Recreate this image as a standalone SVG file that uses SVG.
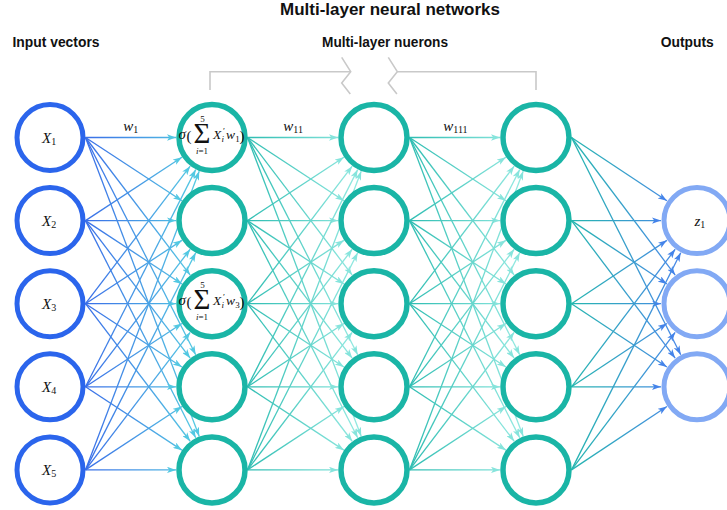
<svg xmlns="http://www.w3.org/2000/svg" width="727" height="510" viewBox="0 0 727 510">
<style>
.in circle{fill:#fff;stroke:#2b65ec;stroke-width:5}
.hid circle{fill:#fff;stroke:#1ab5a6;stroke-width:5.5}
.out circle{fill:#fff;stroke:#82a9f4;stroke-width:5}
.hdr{font-family:"Liberation Sans",Arial,sans-serif;font-weight:bold;font-size:13.8px;fill:#111}
.ttl{font-family:"Liberation Sans",Arial,sans-serif;font-weight:bold;font-size:16.5px;fill:#111}
.m{font-family:"Liberation Serif","Times New Roman",serif;fill:#111}
.it{font-style:italic}
.c line{stroke-width:1.3;fill:none}
.c1 line{stroke:url(#g1);marker-end:url(#a1)}
.c2 line{stroke:url(#g2);marker-end:url(#a2)}
.c3 line{stroke:url(#g3);marker-end:url(#a2)}
.c4 line{stroke:url(#g4);marker-end:url(#a4)}
.br{fill:none;stroke:#c9c9c9;stroke-width:1.6}
</style>
<defs>
<linearGradient id="g1" gradientUnits="userSpaceOnUse" x1="85.5" y1="0" x2="200" y2="0"><stop offset="0" stop-color="#3a6ee8"/><stop offset="1" stop-color="#56cde2"/></linearGradient>
<linearGradient id="g2" gradientUnits="userSpaceOnUse" x1="247.5" y1="0" x2="362" y2="0"><stop offset="0" stop-color="#2ebdb2"/><stop offset="1" stop-color="#97ebe3"/></linearGradient>
<linearGradient id="g3" gradientUnits="userSpaceOnUse" x1="409.5" y1="0" x2="524" y2="0"><stop offset="0" stop-color="#2ebdb2"/><stop offset="1" stop-color="#97ebe3"/></linearGradient>
<linearGradient id="g4" gradientUnits="userSpaceOnUse" x1="571.5" y1="0" x2="685" y2="0"><stop offset="0" stop-color="#26b6b0"/><stop offset="1" stop-color="#4a85ea"/></linearGradient>
<marker id="a1" viewBox="0 0 10 7" refX="10" refY="3.5" markerWidth="9" markerHeight="6.3" markerUnits="userSpaceOnUse" orient="auto"><path d="M0,0 L10,3.5 L0,7 L2.5,3.5 z" fill="#52c8e2"/></marker>
<marker id="a2" viewBox="0 0 10 7" refX="10" refY="3.5" markerWidth="9" markerHeight="6.3" markerUnits="userSpaceOnUse" orient="auto"><path d="M0,0 L10,3.5 L0,7 L2.5,3.5 z" fill="#86e4dc"/></marker>
<marker id="a4" viewBox="0 0 10 7" refX="10" refY="3.5" markerWidth="9" markerHeight="6.3" markerUnits="userSpaceOnUse" orient="auto"><path d="M0,0 L10,3.5 L0,7 L2.5,3.5 z" fill="#4483ea"/></marker>
</defs>

<g id="labels">
<text class="ttl" x="280" y="15.3" textLength="220" lengthAdjust="spacingAndGlyphs">Multi-layer neural networks</text>
<text class="hdr" x="12.5" y="47" textLength="87" lengthAdjust="spacingAndGlyphs">Input vectors</text>
<text class="hdr" x="322" y="47" textLength="126" lengthAdjust="spacingAndGlyphs">Multi-layer nuerons</text>
<text class="hdr" x="660.7" y="46.7" textLength="53" lengthAdjust="spacingAndGlyphs">Outputs</text>
</g>

<g id="bracket">
<path class="br" d="M210,90 V71.7 H350.7 M397.3,71.7 H536 V90"/>
<polyline class="br" points="341.7,57.3 350.7,71.7 341.7,83 350.3,94"/>
<polyline class="br" points="388.3,57.3 397.3,71.7 388.3,83 396.9,94"/>
</g>

<g id="connectors" class="c">
<g class="c1">
<line x1="85.5" y1="137.5" x2="176" y2="137.5"/>
<line x1="85.5" y1="137.5" x2="181.91" y2="200.83"/>
<line x1="85.5" y1="137.5" x2="190.2" y2="275.05"/>
<line x1="85.5" y1="137.5" x2="195.71" y2="354.7"/>
<line x1="85.5" y1="137.5" x2="199.2" y2="436.25"/>
<line x1="85.5" y1="220.6" x2="181.91" y2="157.27"/>
<line x1="85.5" y1="220.6" x2="176" y2="220.6"/>
<line x1="85.5" y1="220.6" x2="181.91" y2="283.93"/>
<line x1="85.5" y1="220.6" x2="190.2" y2="358.15"/>
<line x1="85.5" y1="220.6" x2="195.71" y2="437.8"/>
<line x1="85.5" y1="303.7" x2="190.2" y2="166.15"/>
<line x1="85.5" y1="303.7" x2="181.91" y2="240.37"/>
<line x1="85.5" y1="303.7" x2="176" y2="303.7"/>
<line x1="85.5" y1="303.7" x2="181.91" y2="367.03"/>
<line x1="85.5" y1="303.7" x2="190.2" y2="441.25"/>
<line x1="85.5" y1="386.8" x2="195.71" y2="169.6"/>
<line x1="85.5" y1="386.8" x2="190.2" y2="249.25"/>
<line x1="85.5" y1="386.8" x2="181.91" y2="323.47"/>
<line x1="85.5" y1="386.8" x2="176" y2="386.8"/>
<line x1="85.5" y1="386.8" x2="181.91" y2="450.13"/>
<line x1="85.5" y1="469.9" x2="199.2" y2="171.15"/>
<line x1="85.5" y1="469.9" x2="195.71" y2="252.7"/>
<line x1="85.5" y1="469.9" x2="190.2" y2="332.35"/>
<line x1="85.5" y1="469.9" x2="181.91" y2="406.57"/>
<line x1="85.5" y1="469.9" x2="176" y2="469.9"/>
</g>
<g class="c2">
<line x1="247.5" y1="137.5" x2="338" y2="137.5"/>
<line x1="247.5" y1="137.5" x2="343.91" y2="200.83"/>
<line x1="247.5" y1="137.5" x2="352.2" y2="275.05"/>
<line x1="247.5" y1="137.5" x2="357.71" y2="354.7"/>
<line x1="247.5" y1="137.5" x2="361.2" y2="436.25"/>
<line x1="247.5" y1="220.6" x2="343.91" y2="157.27"/>
<line x1="247.5" y1="220.6" x2="338" y2="220.6"/>
<line x1="247.5" y1="220.6" x2="343.91" y2="283.93"/>
<line x1="247.5" y1="220.6" x2="352.2" y2="358.15"/>
<line x1="247.5" y1="220.6" x2="357.71" y2="437.8"/>
<line x1="247.5" y1="303.7" x2="352.2" y2="166.15"/>
<line x1="247.5" y1="303.7" x2="343.91" y2="240.37"/>
<line x1="247.5" y1="303.7" x2="338" y2="303.7"/>
<line x1="247.5" y1="303.7" x2="343.91" y2="367.03"/>
<line x1="247.5" y1="303.7" x2="352.2" y2="441.25"/>
<line x1="247.5" y1="386.8" x2="357.71" y2="169.6"/>
<line x1="247.5" y1="386.8" x2="352.2" y2="249.25"/>
<line x1="247.5" y1="386.8" x2="343.91" y2="323.47"/>
<line x1="247.5" y1="386.8" x2="338" y2="386.8"/>
<line x1="247.5" y1="386.8" x2="343.91" y2="450.13"/>
<line x1="247.5" y1="469.9" x2="361.2" y2="171.15"/>
<line x1="247.5" y1="469.9" x2="357.71" y2="252.7"/>
<line x1="247.5" y1="469.9" x2="352.2" y2="332.35"/>
<line x1="247.5" y1="469.9" x2="343.91" y2="406.57"/>
<line x1="247.5" y1="469.9" x2="338" y2="469.9"/>
</g>
<g class="c3">
<line x1="409.5" y1="137.5" x2="500" y2="137.5"/>
<line x1="409.5" y1="137.5" x2="505.91" y2="200.83"/>
<line x1="409.5" y1="137.5" x2="514.2" y2="275.05"/>
<line x1="409.5" y1="137.5" x2="519.71" y2="354.7"/>
<line x1="409.5" y1="137.5" x2="523.2" y2="436.25"/>
<line x1="409.5" y1="220.6" x2="505.91" y2="157.27"/>
<line x1="409.5" y1="220.6" x2="500" y2="220.6"/>
<line x1="409.5" y1="220.6" x2="505.91" y2="283.93"/>
<line x1="409.5" y1="220.6" x2="514.2" y2="358.15"/>
<line x1="409.5" y1="220.6" x2="519.71" y2="437.8"/>
<line x1="409.5" y1="303.7" x2="514.2" y2="166.15"/>
<line x1="409.5" y1="303.7" x2="505.91" y2="240.37"/>
<line x1="409.5" y1="303.7" x2="500" y2="303.7"/>
<line x1="409.5" y1="303.7" x2="505.91" y2="367.03"/>
<line x1="409.5" y1="303.7" x2="514.2" y2="441.25"/>
<line x1="409.5" y1="386.8" x2="519.71" y2="169.6"/>
<line x1="409.5" y1="386.8" x2="514.2" y2="249.25"/>
<line x1="409.5" y1="386.8" x2="505.91" y2="323.47"/>
<line x1="409.5" y1="386.8" x2="500" y2="386.8"/>
<line x1="409.5" y1="386.8" x2="505.91" y2="450.13"/>
<line x1="409.5" y1="469.9" x2="523.2" y2="171.15"/>
<line x1="409.5" y1="469.9" x2="519.71" y2="252.7"/>
<line x1="409.5" y1="469.9" x2="514.2" y2="332.35"/>
<line x1="409.5" y1="469.9" x2="505.91" y2="406.57"/>
<line x1="409.5" y1="469.9" x2="500" y2="469.9"/>
</g>
<g class="c4">
<line x1="571.5" y1="137.5" x2="666.91" y2="200.83"/>
<line x1="571.5" y1="137.5" x2="675.2" y2="275.05"/>
<line x1="571.5" y1="137.5" x2="680.71" y2="354.7"/>
<line x1="571.5" y1="220.6" x2="661" y2="220.6"/>
<line x1="571.5" y1="220.6" x2="666.91" y2="283.93"/>
<line x1="571.5" y1="220.6" x2="675.2" y2="358.15"/>
<line x1="571.5" y1="303.7" x2="666.91" y2="240.37"/>
<line x1="571.5" y1="303.7" x2="661" y2="303.7"/>
<line x1="571.5" y1="303.7" x2="666.91" y2="367.03"/>
<line x1="571.5" y1="386.8" x2="675.2" y2="249.25"/>
<line x1="571.5" y1="386.8" x2="666.91" y2="323.47"/>
<line x1="571.5" y1="386.8" x2="661" y2="386.8"/>
<line x1="571.5" y1="469.9" x2="680.71" y2="252.7"/>
<line x1="571.5" y1="469.9" x2="675.2" y2="332.35"/>
<line x1="571.5" y1="469.9" x2="666.91" y2="406.57"/>
</g>
</g>

<g id="in1" class="in"><circle cx="50" cy="137.5" r="33"/><text class="m" x="42" y="142.5" font-size="15"><tspan font-style="italic">X</tspan><tspan font-size="10" dy="2.5">1</tspan></text></g>
<g id="in2" class="in"><circle cx="50" cy="220.6" r="33"/><text class="m" x="42" y="225.6" font-size="15"><tspan font-style="italic">X</tspan><tspan font-size="10" dy="2.5">2</tspan></text></g>
<g id="in3" class="in"><circle cx="50" cy="303.7" r="33"/><text class="m" x="42" y="308.7" font-size="15"><tspan font-style="italic">X</tspan><tspan font-size="10" dy="2.5">3</tspan></text></g>
<g id="in4" class="in"><circle cx="50" cy="386.8" r="33"/><text class="m" x="42" y="391.8" font-size="15"><tspan font-style="italic">X</tspan><tspan font-size="10" dy="2.5">4</tspan></text></g>
<g id="in5" class="in"><circle cx="50" cy="469.9" r="33"/><text class="m" x="42" y="474.9" font-size="15"><tspan font-style="italic">X</tspan><tspan font-size="10" dy="2.5">5</tspan></text></g>

<g id="h1-1" class="hid"><circle cx="212" cy="137.5" r="33"/>
<text class="m" font-size="13.5"><tspan x="178.5" y="138.5" font-style="italic" font-size="15">σ</tspan><tspan x="186.5" y="141" font-size="15">(</tspan><tspan x="193.5" y="143" font-size="29">Σ</tspan><tspan x="200.3" y="122" font-size="9">5</tspan><tspan x="196" y="153.5" font-size="9" font-style="italic">i</tspan><tspan font-size="9">=1</tspan><tspan x="213" y="138.5" font-style="italic">X</tspan><tspan x="221.5" y="141.5" font-size="9" font-style="italic">i</tspan><tspan x="223" y="133.5" font-size="9">′</tspan><tspan x="226" y="138.5" font-style="italic">w</tspan><tspan x="235.3" y="141.5" font-size="9">1</tspan><tspan x="239.5" y="141" font-size="15">)</tspan></text>
</g>
<g id="h1-2" class="hid"><circle cx="212" cy="220.6" r="33"/></g>
<g id="h1-3" class="hid"><circle cx="212" cy="303.7" r="33"/>
<text class="m" font-size="13.5"><tspan x="178.5" y="304.7" font-style="italic" font-size="15">σ</tspan><tspan x="186.5" y="307.2" font-size="15">(</tspan><tspan x="193.5" y="309.2" font-size="29">Σ</tspan><tspan x="200.3" y="288.2" font-size="9">5</tspan><tspan x="196" y="319.7" font-size="9" font-style="italic">i</tspan><tspan font-size="9">=1</tspan><tspan x="213" y="304.7" font-style="italic">X</tspan><tspan x="221.5" y="307.7" font-size="9" font-style="italic">i</tspan><tspan x="223" y="299.7" font-size="9">′</tspan><tspan x="226" y="304.7" font-style="italic">w</tspan><tspan x="235.3" y="307.7" font-size="9">3</tspan><tspan x="239.5" y="307.2" font-size="15">)</tspan></text>
</g>
<g id="h1-4" class="hid"><circle cx="212" cy="386.8" r="33"/></g>
<g id="h1-5" class="hid"><circle cx="212" cy="469.9" r="33"/></g>

<g id="h2-1" class="hid"><circle cx="374" cy="137.5" r="33"/></g>
<g id="h2-2" class="hid"><circle cx="374" cy="220.6" r="33"/></g>
<g id="h2-3" class="hid"><circle cx="374" cy="303.7" r="33"/></g>
<g id="h2-4" class="hid"><circle cx="374" cy="386.8" r="33"/></g>
<g id="h2-5" class="hid"><circle cx="374" cy="469.9" r="33"/></g>

<g id="h3-1" class="hid"><circle cx="536" cy="137.5" r="33"/></g>
<g id="h3-2" class="hid"><circle cx="536" cy="220.6" r="33"/></g>
<g id="h3-3" class="hid"><circle cx="536" cy="303.7" r="33"/></g>
<g id="h3-4" class="hid"><circle cx="536" cy="386.8" r="33"/></g>
<g id="h3-5" class="hid"><circle cx="536" cy="469.9" r="33"/></g>

<g id="out1" class="out"><circle cx="697" cy="220.6" r="33"/><text class="m" x="694.5" y="225.6" font-size="15"><tspan font-style="italic">z</tspan><tspan font-size="10" dy="2.5">1</tspan></text></g>
<g id="out2" class="out"><circle cx="697" cy="303.7" r="33"/></g>
<g id="out3" class="out"><circle cx="697" cy="386.8" r="33"/></g>

<g id="weights">
<text class="m" x="123.3" y="130.5" font-size="15"><tspan font-style="italic">w</tspan><tspan font-size="10" dy="2.5">1</tspan></text>
<text class="m" x="283.3" y="130.5" font-size="15"><tspan font-style="italic">w</tspan><tspan font-size="10" dy="2.5">11</tspan></text>
<text class="m" x="443.3" y="130.5" font-size="15"><tspan font-style="italic">w</tspan><tspan font-size="10" dy="2.5">111</tspan></text>
</g>
</svg>
